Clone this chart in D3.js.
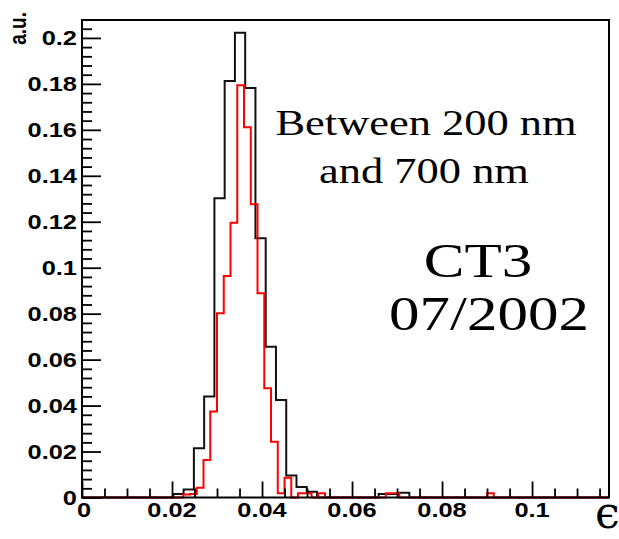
<!DOCTYPE html>
<html>
<head>
<meta charset="utf-8">
<script src="https://cdn.jsdelivr.net/npm/d3@7"></script>
<style>
  html, body { margin: 0; padding: 0; background: #fff; }
  svg { display: block; }
</style>
</head>
<body>
<svg id="chart" width="619" height="539"></svg>
<script>
// ---- histogram contents (a.u. per bin) ----
// black: coarse binning
const blackBinLow = 0.0203;
const blackBinWidth = 0.00228;
const blackValues = [
  0.0015, 0.0035, 0.0214, 0.0439, 0.1302, 0.1813, 0.2022, 0.1782,
  0.1128, 0.0656, 0.0424, 0.0096, 0.0046, 0.0025, 0, 0,
  0, 0, 0, 0, 0.0015, 0.0015, 0.0021
];
// red: fine binning
const redBinLow = 0.0225;
const redBinWidth = 0.0015;
const redValues = [
  0.0013, 0.0015, 0.0042, 0.0163, 0.0374, 0.0802, 0.0964, 0.1196,
  0.1794, 0.1611, 0.1276, 0.0889, 0.0475, 0.0243, 0.0018, 0.0086,
  0, 0.0018, 0.0018, 0, 0.0018, 0, 0, 0,
  0, 0, 0, 0, 0, 0, 0.0018, 0.0018,
  0, 0, 0, 0, 0, 0, 0, 0,
  0, 0, 0, 0, 0, 0.0018
];

// ---- axes ----
const xRange = [0, 0.1171];
const yRange = [0, 0.2078];
const xTicks = [0, 0.02, 0.04, 0.06, 0.08, 0.1];
const xTickLabels = ["0", "0.02", "0.04", "0.06", "0.08", "0.1"];
const xMinorStep = 0.005;
const yTicks = [0, 0.02, 0.04, 0.06, 0.08, 0.1, 0.12, 0.14, 0.16, 0.18, 0.2];
const yTickLabels = ["0", "0.02", "0.04", "0.06", "0.08", "0.1", "0.12", "0.14", "0.16", "0.18", "0.2"];
const yMinorStep = 0.004;
const yTitle = "a.u.";
const xTitle = "\u03F5";
const noteLines = ["Between 200 nm", "and 700 nm"];
const tagLines = ["CT3", "07/2002"];

// ---- layout ----
const frame = { left: 82, right: 609, top: 20, bottom: 497.5 };
const SX = 1.27;               // horizontal text stretch
const labelFont = "'Liberation Sans', Arial, sans-serif";
const serifFont = "'Liberation Serif', 'Times New Roman', serif";

const svg = d3.select("#chart");
svg.append("rect").attr("width", 619).attr("height", 539).attr("fill", "#fff");

const x = d3.scaleLinear().domain(xRange).range([frame.left, frame.right]);
const y = d3.scaleLinear().domain(yRange).range([frame.bottom, frame.top]);

// stretched text helper
function stretchText(parent, px, py, str, opts) {
  const sx = opts.sx === undefined ? SX : opts.sx;
  const g = parent.append("g")
    .attr("transform", `translate(${px},${py}) scale(${sx},1)` + (opts.rotate ? ` rotate(${opts.rotate})` : ""));
  return g.append("text")
    .attr("x", 0).attr("y", 0)
    .attr("text-anchor", opts.anchor || "middle")
    .style("font-family", opts.family || labelFont)
    .style("font-size", opts.size + "px")
    .style("font-weight", opts.weight || "normal")
    .attr("fill", "#000")
    .text(str);
}

// ---- histograms ----
function stepPath(low, width, values) {
  const p = d3.path();
  p.moveTo(x(xRange[0]), y(0));
  let prev = 0;
  values.forEach((v, i) => {
    const lo = low + i * width;
    p.lineTo(x(lo), y(prev));
    p.lineTo(x(lo), y(v));
    prev = v;
  });
  const end = low + values.length * width;
  p.lineTo(x(end), y(prev));
  p.lineTo(x(end), y(0));
  p.lineTo(x(xRange[1]), y(0));
  return p.toString();
}

svg.append("clipPath").attr("id", "frameClip")
  .append("rect")
  .attr("x", frame.left).attr("y", frame.top - 2)
  .attr("width", frame.right - frame.left).attr("height", frame.bottom - frame.top + 4);

const plot = svg.append("g").attr("clip-path", "url(#frameClip)");
plot.append("path")
  .attr("d", stepPath(blackBinLow, blackBinWidth, blackValues))
  .attr("fill", "none").attr("stroke", "#111").attr("stroke-width", 2);
plot.append("path")
  .attr("d", stepPath(redBinLow, redBinWidth, redValues))
  .attr("fill", "none").attr("stroke", "#ff0000").attr("stroke-width", 2);

// ---- ticks (drawn inside the frame) ----
const xMinor = d3.range(0, xRange[1] + 1e-9, xMinorStep).filter(v => !xTicks.some(t => Math.abs(t - v) < 1e-9));
const yMinor = d3.range(0, yRange[1] + 1e-9, yMinorStep).filter(v => !yTicks.some(t => Math.abs(t - v) < 1e-9));

function styleTicks(g) {
  g.select(".domain").remove();
  g.selectAll("line").attr("stroke", "#000").attr("stroke-width", 1.8);
  g.selectAll("text").remove();
}

svg.append("g").attr("transform", `translate(0,${frame.bottom})`)
  .call(d3.axisTop(x).tickValues(xTicks).tickSize(16)).call(styleTicks);
svg.append("g").attr("transform", `translate(0,${frame.bottom})`)
  .call(d3.axisTop(x).tickValues(xMinor).tickSize(9)).call(styleTicks);
svg.append("g").attr("transform", `translate(${frame.left},0)`)
  .call(d3.axisRight(y).tickValues(yTicks).tickSize(19)).call(styleTicks);
svg.append("g").attr("transform", `translate(${frame.left},0)`)
  .call(d3.axisRight(y).tickValues(yMinor).tickSize(10)).call(styleTicks);

// frame
svg.append("rect")
  .attr("x", frame.left).attr("y", frame.top)
  .attr("width", frame.right - frame.left).attr("height", frame.bottom - frame.top)
  .attr("fill", "none").attr("stroke", "#000").attr("stroke-width", 2);

// ---- tick labels ----
xTicks.forEach((t, i) => {
  stretchText(svg, x(t) + (t === 0 ? 2 : 0), 516.5, xTickLabels[i], { size: 20, weight: "bold" });
});
yTicks.forEach((t, i) => {
  stretchText(svg, frame.left - 5, y(t) + 7, yTickLabels[i], { size: 20, weight: "bold", anchor: "end" });
});

// axis titles
stretchText(svg, 26, 12, yTitle, { size: 19, weight: "bold", anchor: "end", rotate: -90 });
stretchText(svg, 595, 528, xTitle, { size: 44, family: "'DejaVu Serif', serif", anchor: "start", sx: 1 });

// annotations
stretchText(svg, 426, 135, noteLines[0], { size: 35, family: serifFont });
stretchText(svg, 424, 183, noteLines[1], { size: 35, family: serifFont });
stretchText(svg, 478, 277, tagLines[0], { size: 48, family: serifFont });
stretchText(svg, 489, 330, tagLines[1], { size: 48, family: serifFont });
</script>
</body>
</html>
